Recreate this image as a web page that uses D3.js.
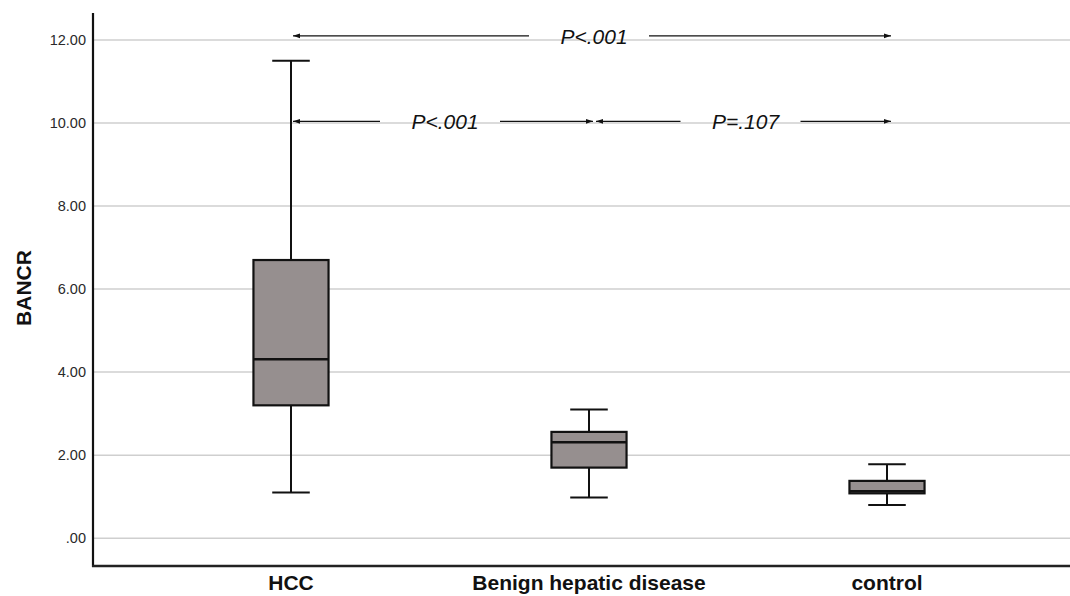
<!DOCTYPE html>
<html>
<head>
<meta charset="utf-8">
<script src="https://cdn.jsdelivr.net/npm/d3@7"></script>
<style>
  html, body { margin: 0; padding: 0; background: #fff; }
  svg { display: block; font-family: "Liberation Sans", Arial, sans-serif; }
</style>
</head>
<body>
<svg id="chart" width="1070" height="596"></svg>
<script>
// ---- data ----
const categories = ["HCC", "Benign hepatic disease", "control"];
const whiskerLow  = [1.10, 0.98, 0.80];
const q1          = [3.20, 1.70, 1.08];
const median      = [4.31, 2.31, 1.13];
const q3          = [6.70, 2.56, 1.38];
const whiskerHigh = [11.50, 3.10, 1.78];
const yTicks = [0, 2, 4, 6, 8, 10, 12];
const yTickLabels = [".00", "2.00", "4.00", "6.00", "8.00", "10.00", "12.00"];
const compFrom   = [0, 0, 1];
const compTo     = [2, 1, 2];
const compLevel  = [12.1, 10.04, 10.04];
const compLabels = ["P<.001", "P<.001", "P=.107"];

(function () {
// ---- layout ----
const svg = d3.select("#chart");
const mLeft = 93, mTop = 13, mBottom = 566, mRight = 1070;

const y = d3.scaleLinear().domain([-0.67, 12.65]).range([mBottom, mTop]);
const x = d3.scaleBand().domain(categories).range([142, 1036]).paddingInner(0).paddingOuter(0);
const cx = c => x(c) + x.bandwidth() / 2;
const boxW = x.bandwidth() * 0.252;
const capW = boxW * 0.5;

// grid lines
svg.append("g").selectAll("line").data(yTicks).join("line")
  .attr("x1", mLeft).attr("x2", mRight)
  .attr("y1", d => y(d)).attr("y2", d => y(d))
  .attr("stroke", "#cfcfcf").attr("stroke-width", 1.5);

// y axis
const yAxis = d3.axisLeft(y).tickValues(yTicks)
  .tickFormat((d, i) => yTickLabels[i]).tickSize(0).tickPadding(7);
const gy = svg.append("g").attr("transform", `translate(${mLeft},0)`).call(yAxis);
gy.select(".domain").remove();
gy.selectAll("text").attr("font-size", 14.5).attr("fill", "#2a2a2a")
  .attr("font-family", "Liberation Sans, Arial, sans-serif");

// x axis labels
const xAxis = d3.axisBottom(x).tickSize(0).tickPadding(9.5);
const gx = svg.append("g").attr("transform", `translate(0,${mBottom})`).call(xAxis);
gx.select(".domain").remove();
gx.selectAll("text").attr("font-size", 21).attr("font-weight", "bold").attr("fill", "#111")
  .attr("font-family", "Liberation Sans, Arial, sans-serif");

// axis lines
svg.append("line").attr("x1", mLeft).attr("x2", mLeft).attr("y1", mTop).attr("y2", mBottom + 1)
  .attr("stroke", "#111").attr("stroke-width", 2.2);
svg.append("line").attr("x1", mLeft - 1).attr("x2", mRight).attr("y1", mBottom).attr("y2", mBottom)
  .attr("stroke", "#222").attr("stroke-width", 2.5);

// y label
svg.append("text").attr("transform", `translate(31,288) rotate(-90)`)
  .attr("text-anchor", "middle").attr("font-size", 21).attr("font-weight", "bold")
  .attr("fill", "#111").text("BANCR");

// boxes
const boxes = svg.append("g").selectAll("g").data(categories).join("g");
boxes.append("line")
  .attr("x1", c => cx(c)).attr("x2", c => cx(c))
  .attr("y1", (c, i) => y(whiskerHigh[i])).attr("y2", (c, i) => y(whiskerLow[i]))
  .attr("stroke", "#111").attr("stroke-width", 2);
boxes.append("line")
  .attr("x1", c => cx(c) - capW / 2).attr("x2", c => cx(c) + capW / 2)
  .attr("y1", (c, i) => y(whiskerHigh[i])).attr("y2", (c, i) => y(whiskerHigh[i]))
  .attr("stroke", "#111").attr("stroke-width", 2);
boxes.append("line")
  .attr("x1", c => cx(c) - capW / 2).attr("x2", c => cx(c) + capW / 2)
  .attr("y1", (c, i) => y(whiskerLow[i])).attr("y2", (c, i) => y(whiskerLow[i]))
  .attr("stroke", "#111").attr("stroke-width", 2);
boxes.append("rect")
  .attr("x", c => cx(c) - boxW / 2).attr("width", boxW)
  .attr("y", (c, i) => y(q3[i])).attr("height", (c, i) => y(q1[i]) - y(q3[i]))
  .attr("fill", "#968f8f").attr("stroke", "#111").attr("stroke-width", 2.2);
boxes.append("line")
  .attr("x1", c => cx(c) - boxW / 2).attr("x2", c => cx(c) + boxW / 2)
  .attr("y1", (c, i) => y(median[i])).attr("y2", (c, i) => y(median[i]))
  .attr("stroke", "#111").attr("stroke-width", 2.4);

// comparison arrows
const defs = svg.append("defs");
defs.append("marker").attr("id", "ah").attr("viewBox", "0 0 10 10")
  .attr("refX", 10).attr("refY", 5).attr("markerWidth", 7).attr("markerHeight", 7)
  .attr("markerUnits", "userSpaceOnUse").attr("orient", "auto-start-reverse")
  .append("path").attr("d", "M0,1.5 L10,5 L0,8.5 Z").attr("fill", "#111");

const comps = compLabels.map((l, i) => ({
  x1: cx(categories[compFrom[i]]) + 2, x2: cx(categories[compTo[i]]) + 4,
  y: y(compLevel[i]), label: l
}));
comps[2].x1 = cx(categories[compFrom[2]]) + 7;

const ag = svg.append("g");
comps.forEach(c => {
  const mid = (c.x1 + c.x2) / 2 - 3;
  const gap = 60;
  ag.append("line").attr("x1", mid - gap).attr("x2", c.x1).attr("y1", c.y).attr("y2", c.y)
    .attr("stroke", "#111").attr("stroke-width", 1.2).attr("marker-end", "url(#ah)");
  ag.append("line").attr("x1", mid + gap).attr("x2", c.x2).attr("y1", c.y).attr("y2", c.y)
    .attr("stroke", "#111").attr("stroke-width", 1.2).attr("marker-end", "url(#ah)");
  ag.append("text").attr("x", mid + 5).attr("y", c.y + 8).attr("text-anchor", "middle")
    .attr("font-size", 21).attr("font-style", "italic").attr("fill", "#111").text(c.label);
});
})();
</script>
</body>
</html>
